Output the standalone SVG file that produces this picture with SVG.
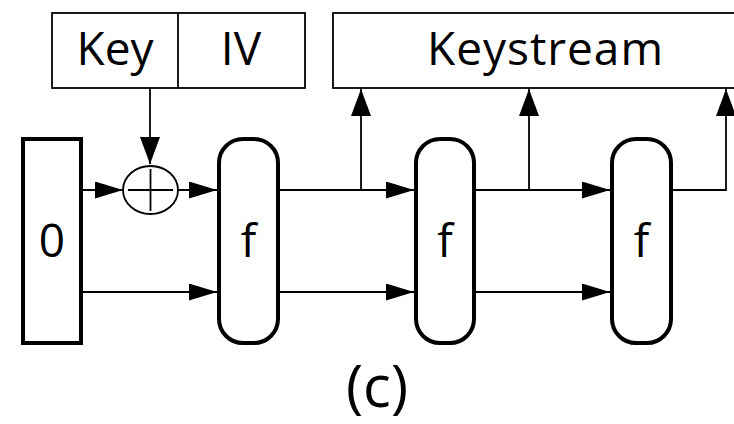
<svg xmlns="http://www.w3.org/2000/svg" width="734" height="424" viewBox="0 0 734 424">
<style>
.thin{fill:none;stroke:#000;stroke-width:1.8}
.box{fill:#fff;stroke:#000;stroke-width:1.8}
.thick{fill:#fff;stroke:#000;stroke-width:4}
.t{font-family:"Open Sans","Liberation Sans",sans-serif;font-size:46px;fill:#000;text-anchor:middle}
</style>
<defs>
<marker id="ah" markerUnits="userSpaceOnUse" markerWidth="28" markerHeight="17" refX="28" refY="8.5" orient="auto"><path d="M0,0 L28,8.5 L0,17 z" fill="#000"/></marker>
<marker id="av" markerUnits="userSpaceOnUse" markerWidth="27" markerHeight="20" refX="27" refY="10" orient="auto"><path d="M0,0 L27,10 L0,20 z" fill="#000"/></marker>
</defs>
<rect width="734" height="424" fill="#fff"/>
<g id="keyiv">
<rect class="box" x="52" y="13" width="253" height="75"/>
<line class="thin" x1="178" y1="13" x2="178" y2="88"/>
<text class="t" x="115" y="65">Key</text>
<text class="t" x="241" y="65">IV</text>
</g>
<g id="keystream">
<rect class="box" x="333" y="13" width="410" height="75"/>
<text class="t" x="545" y="65" textLength="236" lengthAdjust="spacing">Keystream</text>
</g>
<g id="zero">
<rect class="thick" x="23" y="139" width="58" height="204"/>
<text class="t" x="52" y="257">0</text>
</g>
<g id="xor">
<ellipse class="box" cx="150.5" cy="190" rx="27.5" ry="24"/>
<line class="thin" x1="128" y1="190" x2="173" y2="190"/>
<line class="thin" x1="150.5" y1="169" x2="150.5" y2="211"/>
</g>
<g id="f1">
<rect class="thick" x="219" y="139" width="59" height="204" rx="24" ry="24"/>
<text class="t" x="248.5" y="257">f</text>
</g>
<g id="f2">
<rect class="thick" x="416" y="139" width="58" height="204" rx="24" ry="24"/>
<text class="t" x="445" y="257">f</text>
</g>
<g id="f3">
<rect class="thick" x="612" y="139" width="59" height="204" rx="24" ry="24"/>
<text class="t" x="641.5" y="257">f</text>
</g>
<g id="connectors">
<path class="thin" d="M150,88 V164" marker-end="url(#av)"/>
<path class="thin" d="M81,190 H123" marker-end="url(#ah)"/>
<path class="thin" d="M178,190 H217" marker-end="url(#ah)"/>
<path class="thin" d="M278,190 H414" marker-end="url(#ah)"/>
<path class="thin" d="M361,190 V89" marker-end="url(#av)"/>
<path class="thin" d="M474,190 H610" marker-end="url(#ah)"/>
<path class="thin" d="M529,190 V89" marker-end="url(#av)"/>
<path class="thin" d="M671,190 H726 V89" marker-end="url(#av)"/>
<path class="thin" d="M81,292 H217" marker-end="url(#ah)"/>
<path class="thin" d="M278,292 H414" marker-end="url(#ah)"/>
<path class="thin" d="M474,292 H610" marker-end="url(#ah)"/>
</g>
<text class="t" x="377" y="407" style="font-size:58px">(c)</text>
</svg>
